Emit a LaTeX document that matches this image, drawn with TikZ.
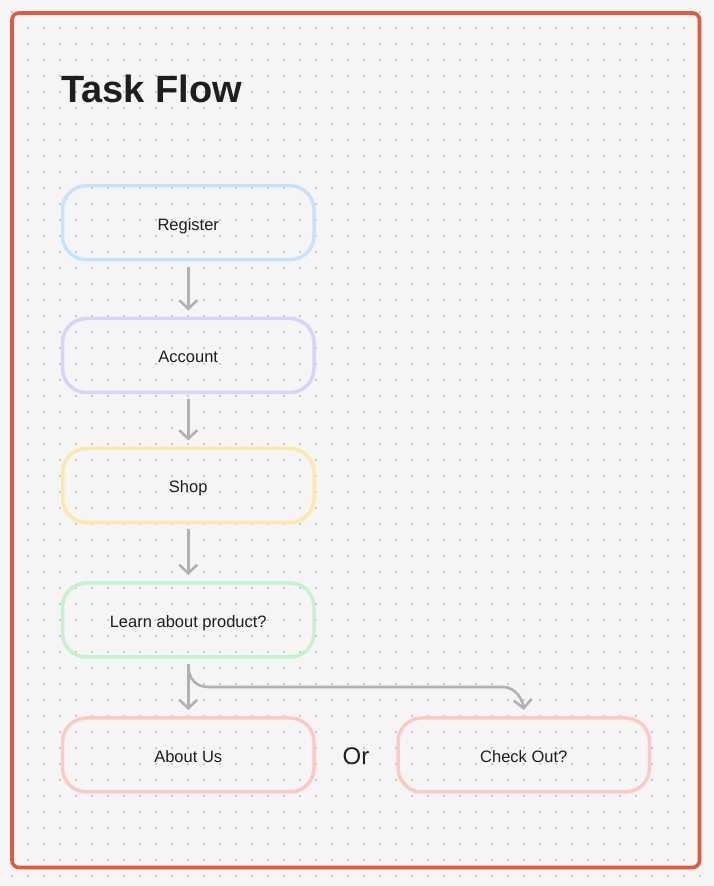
\documentclass[tikz,border=0pt]{standalone}
\usepackage{fontspec}
\setmainfont{Liberation Sans}
\usetikzlibrary{arrows.meta}
\definecolor{bgc}{HTML}{F5F5F5}
\definecolor{dotc}{HTML}{BDBDBD}
\definecolor{framec}{HTML}{E05A3B}
\definecolor{txtc}{HTML}{1E1E1E}
\definecolor{arrc}{HTML}{B1B1B1}
\definecolor{bluec}{HTML}{C6E3FD}
\definecolor{purplec}{HTML}{DDD1FB}
\definecolor{yellowc}{HTML}{FDE8AC}
\definecolor{greenc}{HTML}{C4F2CD}
\definecolor{pinkc}{HTML}{F9CBC3}
\tikzset{
  flowbox/.style={draw, line width=3.5pt, rounded corners=24pt, minimum width=251.5pt,
    minimum height=74pt, inner sep=0pt, outer sep=0pt, text=txtc,
    text height=14.8pt, text depth=0pt,
    font=\fontsize{16.5}{19}\selectfont},
  conn/.style={draw=arrc, line width=2.6pt,
    -{Straight Barb[length=8.5pt,width=18pt,line width=2.6pt]}},
  vconn/.style={conn, shorten <=7pt, shorten >=8pt}
}
\begin{document}
\begin{tikzpicture}[x=1pt,y=1pt]
\useasboundingbox (0,0) rectangle (714,886);
\fill[bgc] (0,0) rectangle (714,886);
\foreach \i in {0,...,43}{
  \foreach \j in {0,...,54}{
    \fill[dotc] (12+16*\i, 874-16*\j) circle (1.15);
  }
}
\draw[framec, line width=3.6pt, rounded corners=7pt] (12,873) rectangle (699.5,18.5);
\node[anchor=base west, text=txtc, font=\fontsize{38}{44}\selectfont\bfseries, inner sep=0pt] (title) at (61,783) {Task Flow};
\node[flowbox, draw=bluec]   (register) at (188.25,663.25) {Register};
\node[flowbox, draw=purplec] (account)  at (188.25,530.5) {Account};
\node[flowbox, draw=yellowc] (shop)     at (188.25,400.5) {Shop};
\node[flowbox, draw=greenc]  (learn)    at (188.25,266) {Learn about product?};
\node[flowbox, draw=pinkc]   (about)    at (188.25,131) {About Us};
\node[flowbox, draw=pinkc]   (check)    at (523.75,131) {Check Out?};
\node[text=txtc, font=\fontsize{24}{28}\selectfont, inner sep=0pt] (or) at (356,130) {Or};
\draw[vconn] (register.south) -- (account.north);
\draw[vconn] (account.south) -- (shop.north);
\draw[vconn] (shop.south) -- (learn.north);
\draw[vconn] (learn.south) -- (about.north);
\draw[conn] ([yshift=-8pt]learn.south) .. controls +(0,-14) and +(-12,0) .. ([xshift=20pt,yshift=-30pt]learn.south)
  -- ([xshift=-21pt,yshift=31pt]check.north) .. controls +(13,0) and +(-1,10) .. ([yshift=8pt]check.north);
\end{tikzpicture}
\end{document}
